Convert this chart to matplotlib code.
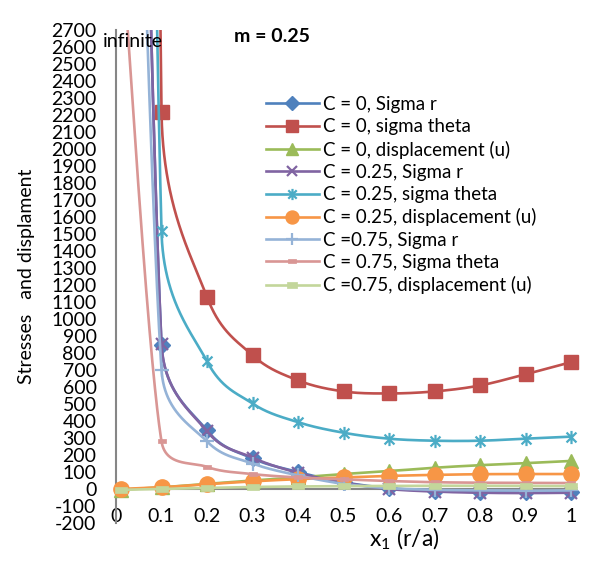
import numpy as np
import matplotlib
matplotlib.use("Agg")
import matplotlib.pyplot as plt
from matplotlib.lines import Line2D
from matplotlib.path import Path

plt.rcParams['font.family'] = ['Lato', 'DejaVu Sans']
plt.rcParams['mathtext.fontset'] = 'custom'
plt.rcParams['mathtext.rm'] = 'Lato'
plt.rcParams['mathtext.it'] = 'Lato:italic'

# ---------------- data ----------------
x_vals = [0.01, 0.1, 0.2, 0.3, 0.4, 0.5, 0.6, 0.7, 0.8, 0.9, 1.0]
sig_r_c0 = [11000, 850, 345, 180, 100, 40, 5, -10, -18, -20, -18]
sig_t_c0 = [40000, 2220, 1130, 787, 639, 574, 562, 574, 609, 675, 746]
u_c0 = [-5, 10, 30, 50, 68, 88, 105, 125, 140, 152, 165]
sig_r_c25 = [11000, 855, 340, 185, 95, 38, 0, -15, -22, -24, -22]
sig_t_c25 = [20000, 1515, 751, 503, 393, 331, 296, 284, 284, 296, 308]
u_c25 = [0, 10, 28, 45, 58, 68, 77, 83, 87, 88, 88]
sig_r_c75 = [8000, 700, 280, 150, 80, 30, 5, -5, -8, -10, -8]
sig_t_c75 = [3300, 280, 130, 88, 68, 57, 47, 40, 37, 36, 35]
u_c75 = [-5, 0, 6, 12, 15, 17, 18, 19, 19, 18, 17]

labels = ["C = 0, Sigma r", "C = 0, sigma theta", "C = 0, displacement (u)",
          "C = 0.25, Sigma r", "C = 0.25, sigma theta", "C = 0.25, displacement (u)",
          "C =0.75, Sigma r", "C = 0.75, Sigma theta", "C =0.75, displacement (u)"]
series = [sig_r_c0, sig_t_c0, u_c0, sig_r_c25, sig_t_c25, u_c25, sig_r_c75, sig_t_c75, u_c75]

y_ticks = list(range(-200, 2701, 100))
x_ticks = [0, 0.1, 0.2, 0.3, 0.4, 0.5, 0.6, 0.7, 0.8, 0.9, 1]
x_ticklabels = ["0", "0.1", "0.2", "0.3", "0.4", "0.5", "0.6", "0.7", "0.8", "0.9", "1"]

# ---------------- styles ----------------
star = Path([(0, -1), (0, 1), (-0.75, -0.75), (0.75, 0.75), (-0.75, 0.75), (0.75, -0.75)],
            [Path.MOVETO, Path.LINETO, Path.MOVETO, Path.LINETO, Path.MOVETO, Path.LINETO])
dash = Path([(-1, -0.55), (1, -0.55), (1, 0.55), (-1, 0.55), (-1, -0.55)],
            [Path.MOVETO, Path.LINETO, Path.LINETO, Path.LINETO, Path.CLOSEPOLY])

styles = [
    dict(color='#4F81BD', marker='D', ms=8.5, mfc='#4F81BD', mec='#4F81BD', mew=1),
    dict(color='#C0504D', marker='s', ms=10.5, mfc='#C0504D', mec='#C0504D', mew=1),
    dict(color='#9BBB59', marker='^', ms=10, mfc='#9BBB59', mec='#9BBB59', mew=1),
    dict(color='#8064A2', marker='x', ms=8.5, mfc='none', mec='#8064A2', mew=1.6),
    dict(color='#4BACC6', marker=star, ms=9.5, mfc='none', mec='#4BACC6', mew=1.6),
    dict(color='#F79646', marker='o', ms=11, mfc='#F79646', mec='#F79646', mew=1),
    dict(color='#95B3D7', marker='+', ms=9.5, mfc='none', mec='#95B3D7', mew=1.6),
    dict(color='#D99694', marker=dash, ms=6, mfc='#D99694', mec='#D99694', mew=0.5),
    dict(color='#C3D69B', marker=dash, ms=8.5, mfc='#C3D69B', mec='#C3D69B', mew=0.5),
]
LW = 1.9


def excel_smooth(ax, x, y, n=400):
    """Excel-like smoothed line: cubic Bezier segments built in screen space."""
    trans = ax.transData
    P = trans.transform(np.column_stack([np.asarray(x, float), np.asarray(y, float)]))
    N = len(P)
    out = []
    t = np.linspace(0, 1, n)[:, None]

    def ctrl(a, b, seg_len):
        d = b - a
        L = np.hypot(*d)
        if L == 0:
            return np.zeros(2)
        return d / L * min(L / 6.0, seg_len / 2.0)

    for i in range(N - 1):
        p0 = P[i - 1] if i > 0 else P[i]
        p1, p2 = P[i], P[i + 1]
        p3 = P[i + 2] if i + 2 < N else P[i + 1]
        seg_len = np.hypot(*(p2 - p1))
        c1 = p1 + ctrl(p0, p2, seg_len)
        c2 = p2 - ctrl(p1, p3, seg_len)
        seg = (1 - t) ** 3 * p1 + 3 * (1 - t) ** 2 * t * c1 + 3 * (1 - t) * t ** 2 * c2 + t ** 3 * p2
        out.append(seg if i == 0 else seg[1:])
    pix = np.vstack(out)
    return trans.inverted().transform(pix)


W, H = 589, 562
fig = plt.figure(figsize=(W / 100, H / 100), dpi=100)
ax_l, ax_r, ax_t, ax_b = 116, 571, 30, 523
ax = fig.add_axes([ax_l / W, 1 - ax_b / H, (ax_r - ax_l) / W, (ax_b - ax_t) / H])
ax.set_xlim(0, 1)
ax.set_ylim(-200, 2700)

axis_gray = '#868686'
ax.axhline(0, color=axis_gray, lw=1.5, zorder=1)
for s in ['top', 'right', 'bottom']:
    ax.spines[s].set_visible(False)
ax.spines['left'].set_color(axis_gray)
ax.spines['left'].set_linewidth(1.5)

handles = []
for k, (ys, st, lab) in enumerate(zip(series, styles, labels)):
    curve = excel_smooth(ax, x_vals, ys)
    ax.plot(curve[:, 0], curve[:, 1], color=st['color'], lw=LW, zorder=2 + k,
            solid_capstyle='round')
    ym = np.array(ys, float)
    ym = np.where(ym > 2700, np.nan, ym)
    ax.plot(x_vals, ym, ls='none', marker=st['marker'], ms=st['ms'], mfc=st['mfc'],
            mec=st['mec'], mew=st['mew'], zorder=2 + k, clip_on=False)
    handles.append(Line2D([], [], color=st['color'], lw=LW, marker=st['marker'],
                          ms=st['ms'] * 0.85, mfc=st['mfc'], mec=st['mec'], mew=st['mew']))

ax.set_yticks(y_ticks)
ax.set_yticklabels([str(v) for v in y_ticks])
ax.set_xticks(x_ticks)
ax.set_xticklabels(x_ticklabels)
ax.tick_params(axis='y', length=0, pad=14, labelsize=14, labelcolor='black')
ax.tick_params(axis='x', length=0, pad=-11, labelsize=14, labelcolor='black')

fig.text(27 / W, 1 - 276 / H, "Stresses   and displament", rotation=90,
         ha='center', va='center', fontsize=14)
fig.text(404 / W, 1 - 539 / H, r"x$_\mathrm{1}$ (r/a)", ha='center', va='center', fontsize=16.5)
fig.text(272 / W, 1 - 37 / H, "m = 0.25", ha='center', va='center', fontsize=14, fontweight='bold')
fig.text(103 / W, 1 - 47 / H, "infinite", ha='left', va='baseline', fontsize=14)

fig.legend(handles, labels, loc='upper left', bbox_to_anchor=(266 / W, 1 - 96 / H),
           bbox_transform=fig.transFigure, frameon=False, fontsize=13.5, borderpad=0,
           borderaxespad=0, handlelength=2.8, handletextpad=0.22, labelspacing=0.28)

fig.savefig("out.png", dpi=100)
